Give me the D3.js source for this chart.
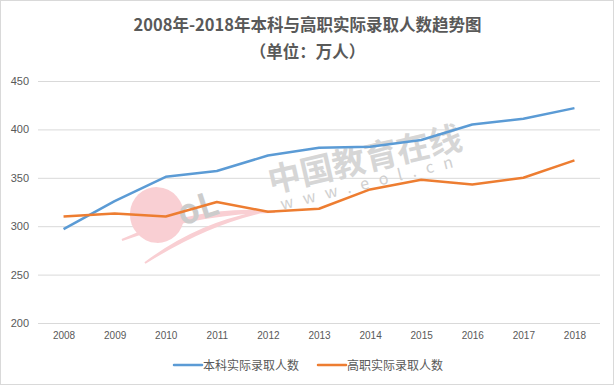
<!DOCTYPE html>
<html>
<head>
<meta charset="utf-8">
<script src="https://cdn.jsdelivr.net/npm/d3@7"></script>
<style>
  body { margin: 0; background: #fff; }
  svg { font-family: "Microsoft YaHei", "Noto Sans CJK SC", sans-serif; }
</style>
</head>
<body>
<div id="chart"></div>
<script>
// data
var years = ["2008","2009","2010","2011","2012","2013","2014","2015","2016","2017","2018"];
var benke = [297, 326, 351, 357, 373, 381, 382, 389, 405, 411, 422];
var gaozhi = [310, 313, 310, 325, 315, 318, 338, 348, 343, 350, 368];
var yTicks = [200, 250, 300, 350, 400, 450];
var seriesNames = ["本科实际录取人数", "高职实际录取人数"];
var seriesColors = ["#5B9BD5", "#ED7D31"];

var width = 615, height = 386;
var margin = {top: 81, right: 15, bottom: 63, left: 38};

var svg = d3.select("#chart").append("svg")
  .attr("width", width)
  .attr("height", height);

// outer frame
svg.append("rect")
  .attr("x", 0.5).attr("y", 0.5)
  .attr("width", width - 2).attr("height", height - 2)
  .attr("fill", "#fff")
  .attr("stroke", "#d9d9d9");

var x = d3.scalePoint()
  .domain(years)
  .range([margin.left, width - margin.right])
  .padding(0.5);

var y = d3.scaleLinear()
  .domain([200, 450])
  .range([height - margin.bottom, margin.top]);

// title
svg.append("text")
  .attr("x", width / 2).attr("y", 31)
  .attr("text-anchor", "middle")
  .attr("font-size", 16.5).attr("font-weight", "bold")
  .attr("fill", "#595959")
  .text("2008年-2018年本科与高职实际录取人数趋势图");

svg.append("text")
  .attr("x", width / 2).attr("y", 58)
  .attr("text-anchor", "middle")
  .attr("font-size", 16.5).attr("font-weight", "bold")
  .attr("fill", "#595959")
  .text("（单位：万人）");

// grid + y labels
var yAxis = d3.axisLeft(y)
  .tickValues(yTicks)
  .tickSize(-(width - margin.left - margin.right))
  .tickPadding(9);

var gy = svg.append("g")
  .attr("transform", "translate(" + margin.left + ",0)")
  .call(yAxis);
gy.select(".domain").remove();
gy.selectAll(".tick line").attr("stroke", "#d9d9d9");
gy.selectAll(".tick text")
  .attr("fill", "#595959")
  .attr("font-size", 11)
  .attr("x", -9)
  .style("font-family", "Liberation Sans, Arial, sans-serif");

// x labels
var xAxis = d3.axisBottom(x).tickSize(0).tickPadding(9);
var gx = svg.append("g")
  .attr("transform", "translate(0," + (height - margin.bottom) + ")")
  .call(xAxis);
gx.select(".domain").remove();
gx.selectAll(".tick text")
  .attr("fill", "#595959")
  .attr("font-size", 10)
  .style("font-family", "Liberation Sans, Arial, sans-serif");

// watermark (eol logo + site name)
var wm = svg.append("g").attr("class", "watermark");
wm.append("path")
  .attr("d", "M122,240 Q200,205 275,212 Q200,212 122,240 Z M145,263 Q200,222 262,212 Q205,225 145,263 Z")
  .attr("fill", "#f9cfd3")
  .attr("stroke", "#f9cfd3")
  .attr("stroke-width", 2);
wm.append("ellipse")
  .attr("cx", 157).attr("cy", 215)
  .attr("rx", 27).attr("ry", 28)
  .attr("transform", "rotate(-20,157,215)")
  .attr("fill", "#f9cfd3");
wm.append("text")
  .attr("transform", "translate(182,226) rotate(-18)")
  .attr("font-size", 34).attr("font-weight", "bold")
  .attr("fill", "#cccccc")
  .text("oL");
wm.append("text")
  .attr("transform", "translate(271,193) rotate(-13)")
  .attr("font-size", 33).attr("font-weight", "bold")
  .attr("fill", "#d6d6d6")
  .text("中国教育在线");
wm.append("text")
  .attr("transform", "translate(282,210) rotate(-14)")
  .attr("font-size", 16)
  .attr("letter-spacing", 10)
  .attr("fill", "#d0d0d0")
  .text("www.eol.cn");

// lines
var line = d3.line()
  .x(function (d, i) { return x(years[i]); })
  .y(function (d) { return y(d); });

[benke, gaozhi].forEach(function (vals, k) {
  svg.append("path")
    .datum(vals)
    .attr("fill", "none")
    .attr("stroke", seriesColors[k])
    .attr("stroke-width", 2.5)
    .attr("stroke-linejoin", "round")
    .attr("d", line);
});

// legend
var legendX = [174, 318];
seriesNames.forEach(function (name, k) {
  var g = svg.append("g").attr("transform", "translate(" + legendX[k] + ",365)");
  g.append("line")
    .attr("x1", 0).attr("x2", 28)
    .attr("stroke", seriesColors[k])
    .attr("stroke-width", 2.5)
    .attr("stroke-linecap", "round");
  g.append("text")
    .attr("x", 29).attr("y", 4.5)
    .attr("font-size", 12)
    .attr("fill", "#595959")
    .text(name);
});
</script>
</body>
</html>
